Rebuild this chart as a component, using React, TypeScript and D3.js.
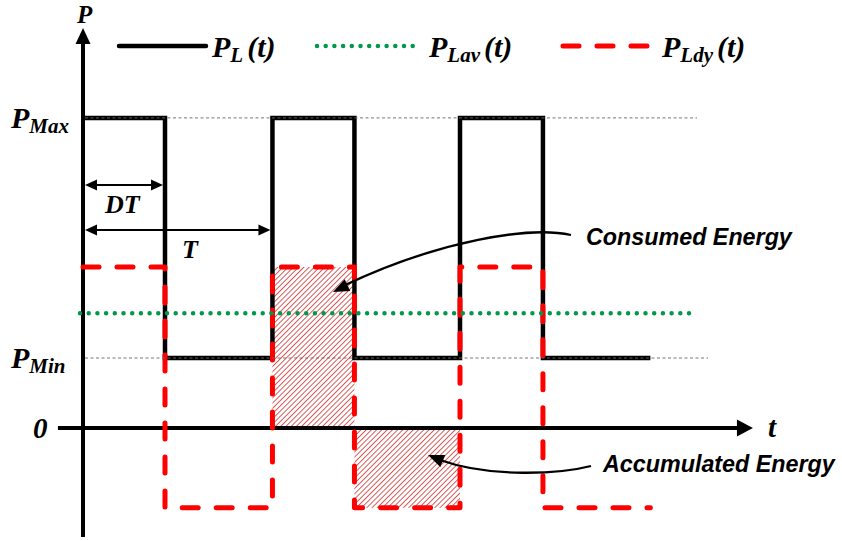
import React, { useEffect } from "react";
import * as d3 from "d3";

// Switching instants of the pulsed load (in periods T)
const edgeTimes = [0, 0.435, 1.005, 1.44, 2, 2.44, 3.01];
// Load power P_L(t) at each instant (step-after)
const loadPower = [4.43, 1, 4.43, 1, 4.43, 1, 1];
// Dynamic part P_Ldy(t) at each instant (step-after)
const dynamicPower = [2.3, -1.14, 2.3, -1.14, 2.3, -1.14, -1.14];
// Average load power P_Lav(t)
const averagePower = 1.64;
const P_MAX = 4.43;
const P_MIN = 1;

const yTickLabels = [
  { value: P_MAX, main: "P", sub: "Max" },
  { value: P_MIN, main: "P", sub: "Min" },
  { value: 0, main: "0", sub: "" },
];

const legendSubs = ["L", "Lav", "Ldy"];

const W = 842;
const H = 541;

const x = d3.scaleLinear().domain([0, 3]).range([83, 648.5]);
const y = d3.scaleLinear().domain([0, 1]).range([428, 358]);

const SERIF = "'Liberation Serif', 'Times New Roman', serif";
const SANS = "'Liberation Sans', Arial, sans-serif";

const BLACK = "#000";
const RED = "#FF0000";
const GREEN = "#00994C";
const HATCH = "#D03C3C";

function arrowHead(tipX: number, tipY: number, angle: number, len: number, half: number) {
  const ca = Math.cos(angle);
  const sa = Math.sin(angle);
  const bx = tipX - ca * len;
  const by = tipY - sa * len;
  const p1 = [bx - sa * half, by + ca * half];
  const p2 = [bx + sa * half, by - ca * half];
  return `M${tipX},${tipY}L${p1[0]},${p1[1]}L${p2[0]},${p2[1]}Z`;
}

export default function App() {
  useEffect(() => {
    document.body.style.margin = "0";
  }, []);

  const stepLine = d3
    .line<[number, number]>()
    .x((d) => x(d[0]))
    .y((d) => y(d[1]))
    .curve(d3.curveStepAfter);

  const loadPath = stepLine(edgeTimes.map((t, i) => [t, loadPower[i]]))!;
  const dynPath = stepLine(edgeTimes.map((t, i) => [t, dynamicPower[i]]))!;

  const consumed = {
    x0: x(edgeTimes[2]),
    x1: x(edgeTimes[3]),
    y0: y(dynamicPower[2]),
    y1: y(0),
  };
  const accumulated = {
    x0: x(edgeTimes[3]),
    x1: x(edgeTimes[4]),
    y0: y(0),
    y1: y(dynamicPower[3]),
  };

  const axisY0 = y(0);
  const xAxisStart = x(-0.133);
  const xAxisTip = x(3.554);
  const yAxisTop = 28;
  const yAxisBottom = 537;

  const dtY = 185;
  const tY = 230;

  const legendY = 46;
  const legendTextX = [212, 429, 662];

  const consumedCurve = "M571,235 C530,226 440,240 343,286";
  const accumCurve = "M591,466 C560,474 490,478 440,460";

  return (
    <svg width={W} height={H} viewBox={`0 0 ${W} ${H}`} style={{ display: "block", background: "#fff" }}>
      <defs>
        <pattern
          id="hatch"
          patternUnits="userSpaceOnUse"
          width={3.7}
          height={3.7}
          patternTransform="rotate(45)"
        >
          <line x1={0.5} y1={0} x2={0.5} y2={3.7} stroke={HATCH} strokeWidth={0.85} />
        </pattern>
      </defs>

      {/* energy regions */}
      <rect
        x={consumed.x0}
        y={consumed.y0}
        width={consumed.x1 - consumed.x0}
        height={consumed.y1 - consumed.y0}
        fill="url(#hatch)"
      />
      <rect
        x={accumulated.x0}
        y={accumulated.y0}
        width={accumulated.x1 - accumulated.x0}
        height={accumulated.y1 - accumulated.y0}
        fill="url(#hatch)"
      />

      {/* P_L(t) */}
      <path d={loadPath} fill="none" stroke={BLACK} strokeWidth={4.5} strokeLinejoin="miter" />

      {/* axes */}
      <line x1={83} y1={yAxisBottom} x2={83} y2={yAxisTop + 10} stroke={BLACK} strokeWidth={4} />
      <path d={arrowHead(83, yAxisTop, -Math.PI / 2, 16, 7.5)} fill={BLACK} />
      <line x1={xAxisStart} y1={axisY0} x2={xAxisTip - 10} y2={axisY0} stroke={BLACK} strokeWidth={4} />
      <path d={arrowHead(xAxisTip, axisY0, 0, 16, 8.5)} fill={BLACK} />

      {/* P_Ldy(t) */}
      <path
        d={dynPath}
        fill="none"
        stroke={RED}
        strokeWidth={5}
        strokeDasharray="16 18"
        strokeLinecap="round"
        strokeLinejoin="round"
      />

      {/* P_Lav(t) */}
      <line
        x1={80}
        y1={y(averagePower)}
        x2={697}
        y2={y(averagePower)}
        stroke={GREEN}
        strokeWidth={4.5}
        strokeDasharray="0 8.7"
        strokeLinecap="round"
      />

      {/* reference levels */}
      <line x1={85} y1={y(P_MAX)} x2={697} y2={y(P_MAX)} stroke="#666" strokeWidth={0.9} strokeDasharray="3 2.5" />
      <line x1={85} y1={y(P_MIN)} x2={708} y2={y(P_MIN)} stroke="#666" strokeWidth={0.9} strokeDasharray="3 2.5" />

      {/* DT and T spans */}
      <line x1={95} y1={dtY} x2={153} y2={dtY} stroke={BLACK} strokeWidth={2} />
      <path d={arrowHead(85, dtY, Math.PI, 12, 5.5)} fill={BLACK} />
      <path d={arrowHead(x(edgeTimes[1]) - 2, dtY, 0, 12, 5.5)} fill={BLACK} />
      <line x1={95} y1={tY} x2={260} y2={tY} stroke={BLACK} strokeWidth={2} />
      <path d={arrowHead(85, tY, Math.PI, 12, 5.5)} fill={BLACK} />
      <path d={arrowHead(x(edgeTimes[2]) - 2, tY, 0, 12, 5.5)} fill={BLACK} />
      <text x={105} y={213} fontFamily={SERIF} fontWeight="bold" fontStyle="italic" fontSize={26}>
        DT
      </text>
      <text x={182} y={258} fontFamily={SERIF} fontWeight="bold" fontStyle="italic" fontSize={26}>
        T
      </text>

      {/* axis labels */}
      <text x={77} y={23} fontFamily={SERIF} fontWeight="bold" fontStyle="italic" fontSize={25}>
        P
      </text>
      <text x={768} y={437} fontFamily={SERIF} fontWeight="bold" fontStyle="italic" fontSize={29}>
        t
      </text>

      {yTickLabels.map((d) =>
        d.sub ? (
          <text
            key={d.sub}
            x={11}
            y={y(d.value) + 10}
            fontFamily={SERIF}
            fontWeight="bold"
            fontStyle="italic"
            fontSize={30}
          >
            {d.main}
            <tspan fontSize={21} dy={5}>
              {d.sub}
            </tspan>
          </text>
        ) : (
          <text
            key="zero"
            x={33}
            y={y(d.value) + 10}
            fontFamily={SERIF}
            fontWeight="bold"
            fontStyle="italic"
            fontSize={29}
          >
            {d.main}
          </text>
        )
      )}

      {/* legend */}
      <line x1={119} y1={legendY} x2={206} y2={legendY} stroke={BLACK} strokeWidth={4.5} strokeLinecap="round" />
      <line
        x1={317}
        y1={legendY}
        x2={413}
        y2={legendY}
        stroke={GREEN}
        strokeWidth={4.5}
        strokeDasharray="0 8.7"
        strokeLinecap="round"
      />
      <line
        x1={563}
        y1={legendY}
        x2={652}
        y2={legendY}
        stroke={RED}
        strokeWidth={5}
        strokeDasharray="16 18"
        strokeLinecap="round"
      />
      {legendSubs.map((sub, i) => (
        <text
          key={sub}
          x={legendTextX[i]}
          y={57}
          fontFamily={SERIF}
          fontWeight="bold"
          fontStyle="italic"
          fontSize={30}
        >
          P
          <tspan fontSize={21} dy={5}>
            {sub}
          </tspan>
          <tspan dy={-5} dx={4}>
            (t)
          </tspan>
        </text>
      ))}

      {/* annotations */}
      <path d={consumedCurve} fill="none" stroke={BLACK} strokeWidth={2.3} />
      <path d={arrowHead(333, 292, Math.atan2(292 - 283, 333 - 352), 16, 6.5)} fill={BLACK} />
      <text x={586} y={245} fontFamily={SANS} fontWeight="bold" fontStyle="italic" fontSize={23.3}>
        Consumed Energy
      </text>

      <path d={accumCurve} fill="none" stroke={BLACK} strokeWidth={2.3} />
      <path d={arrowHead(428, 455, Math.atan2(455 - 462, 428 - 445), 16, 6.5)} fill={BLACK} />
      <text x={603} y={472} fontFamily={SANS} fontWeight="bold" fontStyle="italic" fontSize={23.3}>
        Accumulated Energy
      </text>
    </svg>
  );
}
